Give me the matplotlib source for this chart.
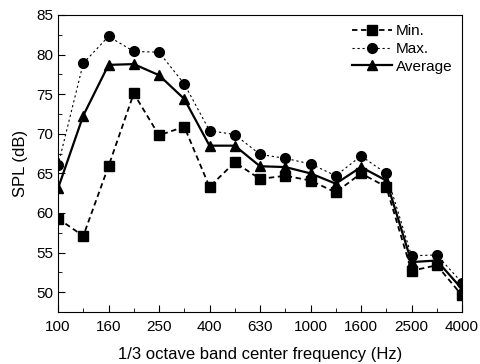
import matplotlib
matplotlib.use('Agg')
from matplotlib import pyplot as plt
from matplotlib.ticker import MultipleLocator

plt.rcParams['font.family'] = ['Liberation Sans', 'DejaVu Sans']

freqs = ['100', '125', '160', '200', '250', '315', '400', '500', '630', '800',
         '1000', '1250', '1600', '2000', '2500', '3150', '4000']
spl_min = [59.3, 57.1, 65.9, 75.1, 69.8, 70.9, 63.3, 66.4, 64.3, 64.7,
           64.1, 62.6, 65.0, 63.3, 52.7, 53.4, 49.6]
spl_max = [66.0, 78.9, 82.3, 80.4, 80.3, 76.3, 70.4, 69.9, 67.4, 66.9,
           66.2, 64.7, 67.2, 65.0, 54.6, 54.7, 51.2]
spl_avg = [63.1, 72.3, 78.7, 78.8, 77.4, 74.4, 68.5, 68.5, 65.9, 65.8,
           65.0, 63.7, 65.8, 64.1, 53.8, 54.0, 50.4]

x = list(range(len(freqs)))

fig = plt.figure(figsize=(4.81, 3.64), dpi=100)
ax = fig.add_axes([0.1206, 0.1429, 0.8399, 0.8159])

ax.plot(x, spl_min, c='black', ls=(0, (3, 2)), lw=1.3, marker='s', ms=6.5, label='Min.')
ax.plot(x, spl_max, c='black', ls=(0, (2, 2.5)), lw=0.8, marker='o', ms=7, label='Max.')
ax.plot(x, spl_avg, c='black', ls='-', lw=1.6, marker='^', ms=7.5, label='Average')

ax.set_xlim(0, len(freqs) - 1)
ax.set_ylim(47.5, 85)
ax.set_xticks(x[::2])
ax.set_xticklabels(freqs[::2])
ax.set_xticks(x[1::2], minor=True)
ax.yaxis.set_major_locator(MultipleLocator(5))
ax.yaxis.set_minor_locator(MultipleLocator(2.5))
ax.tick_params(axis='both', which='both', direction='in', labelsize=11)
ax.tick_params(axis='x', which='major', pad=6)
ax.tick_params(which='major', length=5)
ax.tick_params(which='minor', length=3)

ax.set_xlabel('1/3 octave band center frequency (Hz)', fontsize=12, labelpad=9)
ax.set_ylabel('SPL (dB)', fontsize=12, labelpad=6)

ax.legend(loc='upper right', frameon=False, fontsize=11, handlelength=2.6,
          handletextpad=0.3, borderaxespad=0.2, labelspacing=0.25)

fig.savefig('out.png', dpi=100)
